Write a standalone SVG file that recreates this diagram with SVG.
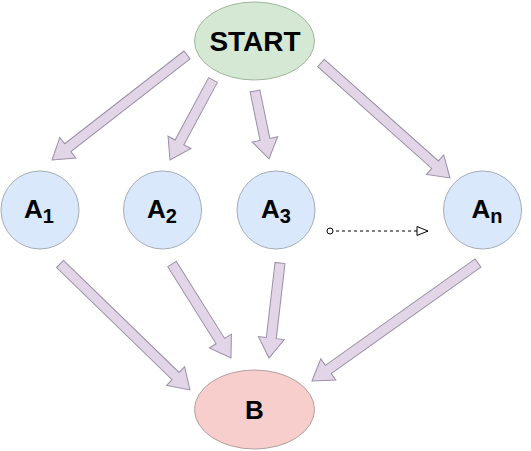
<svg xmlns="http://www.w3.org/2000/svg" width="531" height="451" viewBox="0 0 531 451">
<defs>
<style>
.arr{fill:#e1d5e7;stroke:#9a8fa5;stroke-width:1}
.lbl{font-family:"Liberation Sans",Arial,sans-serif;font-weight:bold;fill:#000;text-anchor:middle}
.a{fill:#dae8fc;stroke:#a6acb6;stroke-width:1}
</style>
<marker id="tri" markerWidth="14" markerHeight="12" refX="12" refY="5" orient="auto" markerUnits="userSpaceOnUse">
<path d="M1,0.5 L12,5 L1,9.5 Z" fill="#fff" stroke="#000" stroke-width="1"/>
</marker>
<marker id="dot" markerWidth="8" markerHeight="8" refX="4" refY="4" orient="auto" markerUnits="userSpaceOnUse">
<circle cx="4" cy="4" r="3" fill="#fff" stroke="#000" stroke-width="1"/>
</marker>
</defs>
<rect width="531" height="451" fill="#fff"/>
<g id="connectors">
<polygon class="arr" transform="translate(187,55) rotate(142.13)" points="0,-5 151,-5 151,-13 171,0 151,13 151,5 0,5"/>
<polygon class="arr" transform="translate(213,80) rotate(118.26)" points="0,-5 70.8,-5 70.8,-13 90.8,0 70.8,13 70.8,5 0,5"/>
<polygon class="arr" transform="translate(255,91) rotate(78.37)" points="0,-5 49.4,-5 49.4,-13 69.4,0 49.4,13 49.4,5 0,5"/>
<polygon class="arr" transform="translate(321,63) rotate(41.72)" points="0,-5 152.8,-5 152.8,-13 172.8,0 152.8,13 152.8,5 0,5"/>
<polygon class="arr" transform="translate(60,264) rotate(44.11)" points="0,-5 161,-5 161,-13 181,0 161,13 161,5 0,5"/>
<polygon class="arr" transform="translate(172,264) rotate(57.89)" points="0,-5 91,-5 91,-13 111,0 91,13 91,5 0,5"/>
<polygon class="arr" transform="translate(280,263) rotate(96.6)" points="0,-5 75.6,-5 75.6,-13 95.6,0 75.6,13 75.6,5 0,5"/>
<polygon class="arr" transform="translate(478,263) rotate(144.59)" points="0,-5 183.7,-5 183.7,-13 203.7,0 183.7,13 183.7,5 0,5"/>
<line x1="330" y1="231" x2="428" y2="231" stroke="#000" stroke-width="1" stroke-dasharray="3,3" marker-start="url(#dot)" marker-end="url(#tri)"/>
</g>
<g id="start">
<ellipse cx="254.5" cy="41" rx="60" ry="39" fill="#d5e8d4" stroke="#9fb59b" stroke-width="1"/>
<text class="lbl" x="255" y="51" font-size="28">START</text>
</g>
<g id="a1">
<circle class="a" cx="40" cy="210" r="39"/>
<text class="lbl" x="39" y="217.5" font-size="26">A<tspan font-size="20" dy="5">1</tspan></text>
</g>
<g id="a2">
<circle class="a" cx="162.5" cy="210" r="39"/>
<text class="lbl" x="162" y="217.5" font-size="26">A<tspan font-size="20" dy="5">2</tspan></text>
</g>
<g id="a3">
<circle class="a" cx="276" cy="210" r="39"/>
<text class="lbl" x="276" y="217.5" font-size="26">A<tspan font-size="20" dy="5">3</tspan></text>
</g>
<g id="an">
<circle class="a" cx="482.5" cy="210" r="39"/>
<text class="lbl" x="487" y="217.5" font-size="26">A<tspan font-size="20" dy="5">n</tspan></text>
</g>
<g id="b">
<ellipse cx="254.5" cy="409.5" rx="60" ry="39.5" fill="#f8cecc" stroke="#b0a0a0" stroke-width="1"/>
<text class="lbl" x="254.5" y="419" font-size="26">B</text>
</g>
</svg>
